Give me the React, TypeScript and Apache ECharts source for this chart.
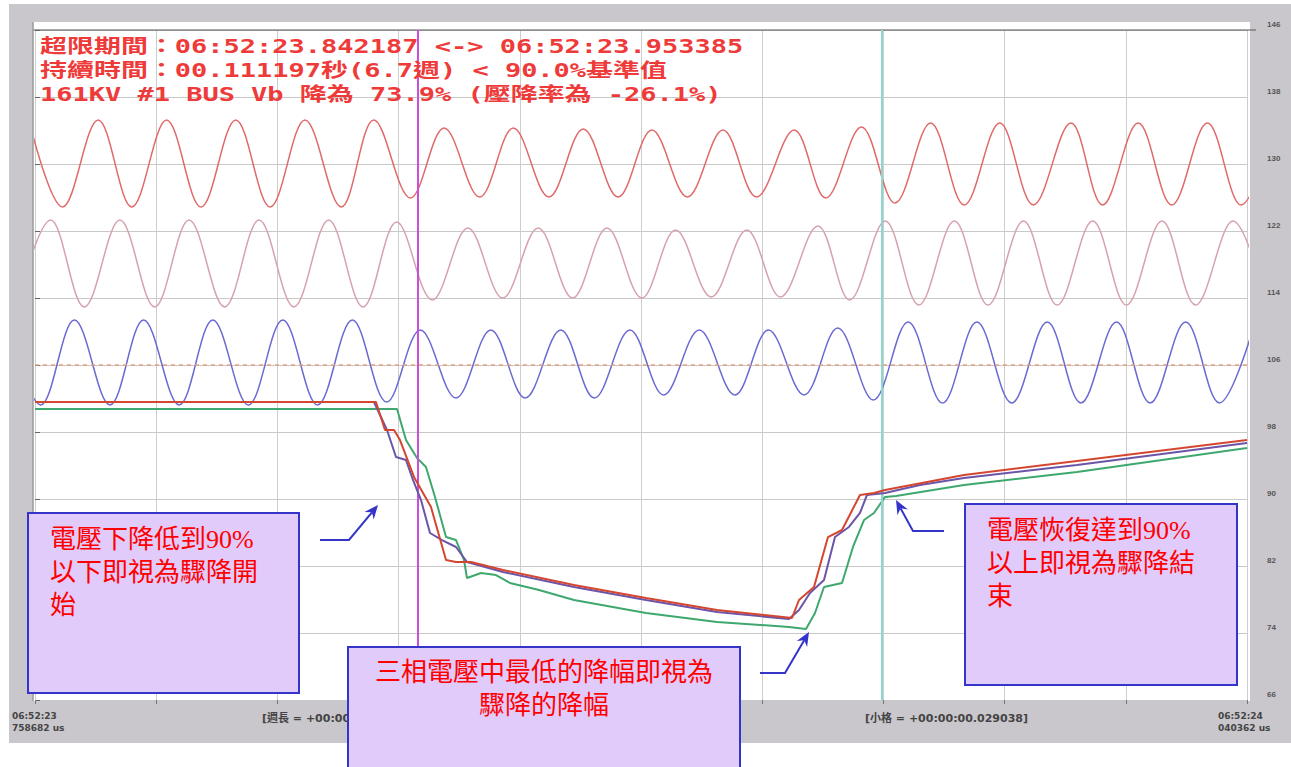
import React, { useEffect, useRef } from "react";
import * as echarts from "echarts";

// ---- axes (time in ms from left edge, voltage in %) ----
const xMinMs = 0;
const xMaxMs = 290.4;
const xStepMs = 29.04;
const yMin = 66;
const yMax = 146;
const yStep = 8;

const eventStartMs = 91.77; // 06:52:23.842187
const eventEndMs = 202.92; // 06:52:23.953385
const refLevel = 106;

// ---- instantaneous waveforms: extremes (peak / trough) ----
const waveA: [number, number][] = [
  [-1.46, 135.25], [6.61, 124.87], [15.14, 135.25], [23.19, 124.87], [31.53, 135.25], [39.77, 124.87],
  [48.11, 135.25], [56.35, 124.87], [64.69, 135.25], [73.39, 124.87], [81.18, 135.25], [89.97, 125.94],
  [98.02, 134.3], [106.55, 126.06], [114.6, 134.3], [123.13, 126.06], [131.37, 134.18], [139.71, 126.06],
  [147.81, 134.06], [156.31, 126.06], [164.84, 134.06], [172.89, 126.06], [181.9, 134.06], [189.47, 125.94],
  [198.01, 134.42], [206.06, 125.34], [214.59, 134.9], [222.64, 125.1], [231.16, 134.9], [239.21, 125.1],
  [248.22, 134.9], [255.79, 125.1], [264.33, 134.9], [272.38, 125.1], [280.91, 134.9], [288.96, 125.1],
  [297.34, 134.9],
];
const waveB: [number, number][] = [
  [-4.53, 112.93], [3.76, 123.31], [11.81, 112.93], [20.34, 123.31], [28.68, 112.93], [36.92, 123.31],
  [45.45, 112.93], [53.69, 123.31], [62.03, 112.93], [70.37, 123.31], [78.61, 112.93], [86.66, 123.07],
  [95.19, 113.76], [103.72, 122.36], [112.06, 114.0], [120.57, 122.36], [128.81, 114.0], [137.05, 122.36],
  [145.39, 114.0], [153.49, 122.12], [162.02, 114.12], [170.55, 122.12], [178.6, 114.12], [187.58, 122.6],
  [195.18, 113.76], [203.71, 123.19], [211.76, 113.16], [220.29, 123.19], [228.34, 113.16], [236.85, 123.19],
  [244.92, 113.16], [253.43, 123.19], [261.5, 113.16], [270.03, 123.19], [278.08, 113.16], [287.04, 123.19],
  [295.19, 113.16],
];
const waveC: [number, number][] = [
  [-6.9, 111.37], [1.39, 101.22], [9.44, 111.37], [17.97, 101.22], [26.02, 111.37], [34.55, 101.22],
  [42.6, 111.37], [51.13, 101.22], [59.37, 111.37], [67.71, 101.22], [76.05, 111.37], [84.29, 101.58],
  [92.34, 110.18], [100.87, 102.06], [109.21, 110.18], [117.45, 102.06], [125.98, 110.18], [134.03, 102.06],
  [142.56, 110.18], [150.63, 102.42], [159.16, 110.18], [167.69, 102.42], [175.74, 110.18], [184.28, 102.42],
  [192.33, 110.42], [200.86, 101.82], [209.2, 111.13], [217.44, 101.46], [225.68, 111.13], [234.02, 101.46],
  [242.55, 111.13], [250.6, 101.46], [259.13, 111.13], [267.18, 101.46], [275.71, 111.13], [283.77, 101.46],
  [292.32, 111.13],
];

// ---- RMS traces (%) ----
const rmsRed: [number, number][] = [
  [0, 101.58], [81.7, 101.58], [83.86, 98.24], [86.02, 98.24], [87.46, 97.04], [90.81, 92.63], [94.88, 89.04],
  [98.48, 82.72], [100.87, 82.48], [104.47, 82.48], [112.13, 81.52], [129.14, 79.73], [146.4, 78.18],
  [163.41, 76.75], [181.38, 75.79], [183.06, 77.94], [186.65, 79.49], [190.0, 85.46], [193.36, 86.3],
  [197.67, 90.48], [201.02, 90.72], [203.66, 91.07], [222.59, 92.87], [249.66, 94.54], [290.4, 97.04],
];
const rmsPurple: [number, number][] = [
  [0, 101.58], [81.22, 101.58], [84.34, 98.24], [86.5, 95.01], [88.89, 94.66], [90.57, 92.27], [92.49, 89.88],
  [94.64, 85.94], [97.52, 85.1], [100.87, 84.27], [103.51, 82.48], [112.13, 81.28], [129.14, 79.49],
  [146.4, 77.94], [163.41, 76.51], [180.66, 75.67], [183.06, 76.75], [185.69, 78.78], [189.05, 80.33],
  [191.68, 85.46], [195.03, 86.66], [197.67, 88.33], [199.35, 90.48], [203.66, 90.72], [212.05, 91.67],
  [222.59, 92.51], [249.66, 94.06], [290.4, 96.69],
];
const rmsGreen: [number, number][] = [
  [0, 100.75], [86.74, 100.75], [88.89, 97.04], [91.53, 94.89], [93.68, 93.82], [95.84, 90.24], [98.48, 85.46],
  [100.87, 85.1], [102.79, 82.72], [103.51, 80.57], [106.86, 81.16], [110.46, 80.92], [113.81, 79.97],
  [120.76, 79.13], [129.14, 77.94], [146.4, 76.39], [163.41, 75.31], [180.66, 74.72], [184.74, 74.48],
  [186.89, 76.39], [189.05, 79.49], [193.36, 79.97], [195.99, 84.27], [198.63, 87.49], [201.02, 88.33],
  [203.66, 90.24], [206.29, 90.36], [222.59, 91.67], [249.66, 93.22], [290.4, 96.09],
];

// ---- texts ----
const headerLines = [
  "超限期間：06:52:23.842187 <-> 06:52:23.953385",
  "持續時間：00.111197秒(6.7週) < 90.0%基準值",
  "161KV #1 BUS Vb 降為 73.9% (壓降率為 -26.1%)",
];
const noteStart = "電壓下降低到90%\n以下即視為驟降開\n始";
const noteDepth = "三相電壓中最低的降幅即視為\n驟降的降幅";
const noteEnd = "電壓恢復達到90%\n以上即視為驟降結\n束";
const bottomLeftLabel = "06:52:23\n758682 us";
const bottomRightLabel = "06:52:24\n040362 us";
const cycleLabel = "[週長 = +00:00:00.016667]";
const cellLabel = "[小格 = +00:00:00.029038]";

const ARROW = "#3434c8";
const BOX_FILL = "#e0cbfb";

function arrow(points: number[][]) {
  const n = points.length;
  const tip = points[n - 1];
  const prev = points[n - 2];
  const dx = tip[0] - prev[0];
  const dy = tip[1] - prev[1];
  const len = Math.sqrt(dx * dx + dy * dy);
  const ux = dx / len;
  const uy = dy / len;
  const px = -uy;
  const py = ux;
  const L = 14;
  const H = 6;
  const bx = tip[0] - ux * L;
  const by = tip[1] - uy * L;
  const ix = tip[0] - ux * 9.5;
  const iy = tip[1] - uy * 9.5;
  return [
    {
      type: "polyline",
      z: 60,
      silent: true,
      shape: { points: [...points.slice(0, n - 1), [ix, iy]] },
      style: { stroke: ARROW, lineWidth: 2, fill: null },
    },
    {
      type: "polygon",
      z: 60,
      silent: true,
      shape: {
        points: [tip, [bx + px * H, by + py * H], [ix, iy], [bx - px * H, by - py * H]],
      },
      style: { fill: ARROW },
    },
  ];
}

function noteBox(x: number, y: number, w: number, h: number) {
  return {
    type: "rect",
    z: 55,
    silent: true,
    shape: { x, y, width: w, height: h },
    style: { fill: BOX_FILL, stroke: ARROW, lineWidth: 2 },
  };
}

const noteFont = '"Liberation Serif", "Noto Sans CJK TC", serif';

export default function App() {
  const ref = useRef<HTMLDivElement>(null);

  useEffect(() => {
    if (!ref.current) return;
    const chart = echarts.init(ref.current, undefined, { renderer: "svg" });

    const waveSeries = (name: string, data: [number, number][], color: string) => ({
      name,
      type: "line",
      data,
      smooth: 0.36,
      symbol: "none",
      z: 3,
      lineStyle: { color, width: 1.5 },
    });
    const rmsSeries = (name: string, data: [number, number][], color: string, z: number) => ({
      name,
      type: "line",
      data,
      symbol: "none",
      z,
      lineStyle: { color, width: 2 },
    });

    const option: any = {
      animation: false,
      grid: { left: 35, right: 44, top: 30, bottom: 67, containLabel: false },
      xAxis: {
        type: "value",
        min: xMinMs,
        max: xMaxMs,
        interval: xStepMs,
        axisLine: { show: false },
        axisTick: { show: true, length: 4, lineStyle: { color: "#777" } },
        axisLabel: { show: false },
        splitLine: { show: true, lineStyle: { color: "#cdcdcd", width: 1 } },
      },
      yAxis: {
        type: "value",
        position: "right",
        min: yMin,
        max: yMax,
        interval: yStep,
        axisLine: { show: false },
        axisTick: { show: true, length: 5, lineStyle: { color: "#666" } },
        axisLabel: {
          show: true,
          margin: 20,
          fontSize: 8,
          fontWeight: "bold",
          color: "#555",
          verticalAlign: "bottom",
          padding: [0, 0, 2, 0],
          showMinLabel: true,
          showMaxLabel: true,
        },
        splitLine: { show: true, lineStyle: { color: "#c8c8c8", width: 1 } },
      },
      series: [
        waveSeries("Va", waveA, "#e06a6a"),
        waveSeries("Vb", waveB, "#d6a2ac"),
        waveSeries("Vc", waveC, "#6a6ad2"),
        {
          ...rmsSeries("Vc rms", rmsGreen, "#3ea86e", 4),
          markLine: {
            silent: true,
            symbol: "none",
            label: { show: false },
            data: [
              { xAxis: eventStartMs, lineStyle: { color: "#cc4fdc", width: 2, type: "solid" } },
              { xAxis: eventEndMs, lineStyle: { color: "#8ad9d0", width: 2, type: "solid" } },
              { yAxis: refLevel, lineStyle: { color: "#e8a07e", width: 1.5, type: [4, 4] } },
            ],
          },
        },
        rmsSeries("Vb rms", rmsPurple, "#6b55a8", 5),
        rmsSeries("Va rms", rmsRed, "#d44630", 6),
      ],
      graphic: [
        // frame and plot background
        {
          type: "rect",
          z: -10,
          silent: true,
          shape: { x: 9, y: 4, width: 1282, height: 739 },
          style: { fill: "#c9c7cc" },
        },
        {
          type: "rect",
          z: -9,
          silent: true,
          shape: { x: 33, y: 22, width: 1217, height: 679 },
          style: { fill: "#ffffff" },
        },
        {
          type: "line",
          z: 5,
          silent: true,
          shape: { x1: 33, y1: 30, x2: 1256, y2: 30 },
          style: { stroke: "#555", lineWidth: 1 },
        },
        {
          type: "line",
          z: 5,
          silent: true,
          shape: { x1: 33, y1: 22, x2: 33, y2: 701 },
          style: { stroke: "#9a9a9a", lineWidth: 1.5 },
        },
        // header texts
        ...headerLines.map((t, i) => ({
          type: "text",
          z: 20,
          silent: true,
          x: 40,
          y: 46 + i * 24,
          scaleX: 1.42,
          style: {
            text: t,
            fontSize: 19,
            fontWeight: "bold",
            fontFamily: '"DejaVu Sans Mono", "Noto Sans CJK TC", monospace',
            fill: "#ef3a3a",
            verticalAlign: "middle",
          },
        })),
        // bottom labels
        {
          type: "text",
          z: 20,
          silent: true,
          x: 12,
          y: 710,
          style: {
            text: bottomLeftLabel,
            fontSize: 9,
            fontWeight: "bold",
            lineHeight: 12,
            fontFamily: '"DejaVu Sans", sans-serif',
            fill: "#444",
          },
        },
        {
          type: "text",
          z: 20,
          silent: true,
          x: 1218,
          y: 710,
          style: {
            text: bottomRightLabel,
            fontSize: 9,
            fontWeight: "bold",
            lineHeight: 12,
            fontFamily: '"DejaVu Sans", sans-serif',
            fill: "#444",
          },
        },
        {
          type: "text",
          z: 20,
          silent: true,
          x: 262,
          y: 718,
          style: {
            text: cycleLabel,
            fontSize: 11,
            fontWeight: "bold",
            fontFamily: '"DejaVu Sans", "Noto Sans CJK TC", sans-serif',
            fill: "#444",
            verticalAlign: "middle",
          },
        },
        {
          type: "text",
          z: 20,
          silent: true,
          x: 865,
          y: 718,
          style: {
            text: cellLabel,
            fontSize: 11,
            fontWeight: "bold",
            fontFamily: '"DejaVu Sans", "Noto Sans CJK TC", sans-serif',
            fill: "#444",
            verticalAlign: "middle",
          },
        },
        // annotation boxes
        noteBox(28, 513, 271, 180),
        {
          type: "text",
          z: 61,
          silent: true,
          x: 50,
          y: 523,
          style: {
            text: noteStart,
            fontSize: 26,
            lineHeight: 33,
            fontFamily: noteFont,
            fill: "#ff0000",
            verticalAlign: "top",
          },
        },
        noteBox(348, 647, 392, 140),
        {
          type: "text",
          z: 61,
          silent: true,
          x: 544,
          y: 656,
          style: {
            text: noteDepth,
            fontSize: 26,
            lineHeight: 33,
            fontFamily: noteFont,
            fill: "#ff0000",
            align: "center",
            verticalAlign: "top",
          },
        },
        noteBox(965, 504, 272, 181),
        {
          type: "text",
          z: 61,
          silent: true,
          x: 987,
          y: 514,
          style: {
            text: noteEnd,
            fontSize: 26,
            lineHeight: 33,
            fontFamily: noteFont,
            fill: "#ff0000",
            verticalAlign: "top",
          },
        },
        // arrows
        ...arrow([[320, 540], [349, 540], [378, 505]]),
        ...arrow([[760, 673], [785, 673], [809, 632]]),
        ...arrow([[944, 531], [913, 531], [896, 500]]),
      ],
    };

    chart.setOption(option);
    return () => chart.dispose();
  }, []);

  return (
    <div
      ref={ref}
      style={{ position: "fixed", left: 0, top: 0, width: 1291, height: 767, background: "#ffffff" }}
    />
  );
}
